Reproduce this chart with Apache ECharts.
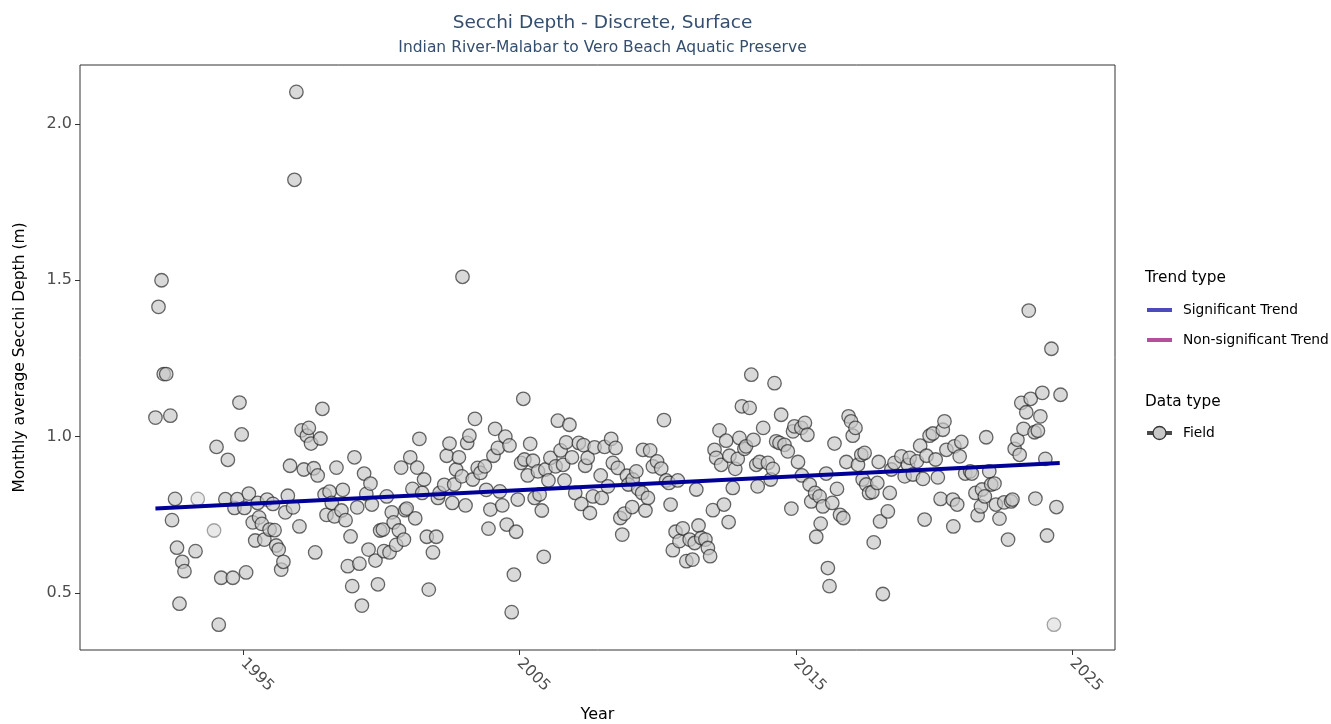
<!DOCTYPE html>
<html>
<head>
<meta charset="utf-8">
<script src="https://cdn.jsdelivr.net/npm/echarts@6/dist/echarts.min.js"></script>
<style>
html,body{margin:0;padding:0;background:#fff;}
#chart{width:1331px;height:724px;}
</style>
</head>
<body>
<div id="chart"></div>
<script>
// ---- data (decimal year, monthly average Secchi depth in m) ----
const fieldYears = [
1991.83,1991.94,1992.05,1992.13,1992.22,1992.37,1992.43,1992.54,1992.61,1992.70,1992.80,1992.88,1993.28,
1994.04,1994.12,1994.21,1994.36,1994.45,1994.63,1994.69,1994.79,1994.87,1994.95,1995.05,1995.11,1995.21,1995.35,1995.44,
1995.53,1995.58,1995.68,1995.77,1995.87,1995.96,1996.08,1996.14,1996.20,1996.29,1996.38,1996.46,1996.53,1996.62,1996.70,1996.81,1996.86,1996.93,
1997.04,1997.12,1997.20,1997.31,1997.38,1997.46,1997.56,1997.61,1997.70,1997.80,1997.87,1997.95,
1998.02,1998.13,1998.21,1998.31,1998.38,1998.56,1998.61,1998.71,1998.79,1998.89,1998.95,
1999.03,1999.13,1999.21,1999.30,1999.38,1999.46,1999.54,1999.61,1999.66,1999.79,1999.88,1999.96,
2000.06,2000.10,2000.20,2000.30,2000.38,2000.45,2000.54,2000.64,2000.72,2000.82,2000.87,2000.92,
2001.05,2001.13,2001.23,2001.30,2001.38,2001.48,2001.55,2001.65,2001.72,2001.87,2001.99,
2002.05,2002.11,2002.28,2002.37,2002.47,2002.57,2002.64,2002.71,2002.81,2002.92,2002.94,
2003.05,2003.11,2003.19,2003.31,2003.39,2003.49,2003.59,2003.75,2003.80,2003.88,2003.95,
2004.06,2004.12,2004.22,2004.29,2004.38,2004.49,2004.54,2004.64,2004.72,2004.80,2004.88,2004.94,
2005.06,2005.14,2005.18,2005.30,2005.39,2005.49,2005.55,2005.67,2005.73,2005.81,2005.88,2005.94,
2006.05,2006.12,2006.31,2006.39,2006.49,2006.58,2006.63,2006.69,2006.81,2006.90,
2007.02,2007.15,2007.24,2007.32,2007.38,2007.47,2007.55,2007.66,2007.72,2007.94,2007.98,
2008.08,2008.20,2008.32,2008.38,2008.48,2008.56,2008.65,2008.72,2008.80,2008.89,2008.94,
2009.08,2009.10,2009.23,2009.30,2009.44,2009.47,2009.56,2009.65,2009.73,2009.83,2009.98,
2010.13,2010.23,2010.31,2010.41,2010.47,2010.55,2010.65,2010.73,2010.79,2010.91,
2011.04,2011.16,2011.26,2011.34,2011.40,2011.48,2011.58,2011.73,2011.82,2011.90,
2012.00,2012.06,2012.12,2012.24,2012.30,2012.40,2012.48,2012.57,2012.60,2012.72,2012.81,2012.90,2012.96,
2013.05,2013.14,2013.20,2013.33,2013.39,2013.47,2013.57,2013.62,2013.69,2013.82,2013.99,
2014.09,2014.17,2014.23,2014.29,2014.41,2014.47,2014.59,2014.71,2014.84,2014.90,2014.95,
2015.08,2015.20,2015.22,2015.33,2015.42,2015.50,2015.56,2015.70,2015.74,2015.86,2015.90,2015.98,
2016.10,2016.16,2016.22,2016.32,2016.40,2016.49,2016.60,2016.72,2016.83,2016.91,
2017.00,2017.06,2017.16,2017.25,2017.37,2017.42,2017.49,2017.55,2017.65,2017.77,2017.82,2017.95,
2018.00,2018.05,2018.15,2018.33,2018.40,2018.46,2018.57,2018.82,2018.94,
2019.06,2019.12,2019.24,2019.38,2019.50,2019.60,2019.66,2019.73,2019.84,2019.96,
2020.06,2020.14,2020.24,2020.32,2020.38,2020.45,2020.68,2020.70,2020.74,2020.84,2020.93,2020.99,
2021.13,2021.31,2021.37,2021.50,2021.58,2021.70,2021.74,2021.84,2021.89,
2022.00,2022.07,2022.19,2022.24,2022.37,2022.54,2022.68,2022.79,2022.84,2022.92,
2023.02,2023.10,2023.16,2023.24,2023.34,2023.43,2023.50,2023.64,2023.67,2023.76,2023.85,2023.92,
2024.03,2024.09,2024.25,2024.43,2024.58
];
const fieldDepth = [
1.061,1.415,1.500,1.200,1.200,1.067,0.733,0.801,0.645,0.466,0.600,0.570,0.634,
0.967,0.399,0.549,0.800,0.926,0.549,0.772,0.800,1.109,1.007,0.772,0.566,0.818,0.726,0.668,
0.788,0.742,0.721,0.671,0.799,0.703,0.785,0.701,0.652,0.639,0.575,0.600,0.758,0.811,0.907,0.774,1.821,2.102,
0.713,1.020,0.895,1.003,1.028,0.978,0.899,0.630,0.876,0.994,1.089,0.815,
0.750,0.824,0.788,0.745,0.901,0.764,0.830,0.733,0.586,0.681,0.522,
0.934,0.774,0.594,0.460,0.882,0.817,0.639,0.850,0.783,0.604,0.528,0.700,
0.703,0.634,0.809,0.630,0.758,0.726,0.654,0.700,0.901,0.671,0.765,0.770,
0.934,0.833,0.739,0.901,0.993,0.820,0.863,0.680,0.511,0.630,0.680,
0.804,0.820,0.846,0.939,0.978,0.788,0.847,0.895,0.934,0.873,1.511,
0.780,0.980,1.003,0.863,1.057,0.900,0.884,0.905,0.830,0.706,0.767,
0.939,1.025,0.964,0.825,0.780,1.000,0.719,0.972,0.439,0.559,0.696,0.799,
0.916,1.121,0.927,0.876,0.977,0.923,0.804,0.889,0.815,0.764,0.616,0.895,
0.860,0.932,0.905,1.051,0.956,0.910,0.860,0.982,1.038,0.934,
0.820,0.980,0.785,0.973,0.907,0.932,0.756,0.809,0.966,0.876,0.804,
0.967,0.841,0.993,0.916,0.964,0.900,0.740,0.687,0.754,0.875,0.847,
0.775,0.863,0.889,0.833,0.820,0.958,0.764,0.804,0.956,0.905,0.921,
0.898,1.053,0.860,0.852,0.783,0.637,0.696,0.860,0.666,0.707,
0.602,0.671,0.607,0.660,0.831,0.716,0.676,0.671,0.644,0.618,
0.765,0.958,0.932,1.020,0.910,0.783,0.987,0.727,0.939,0.836,0.897,0.929,0.996,
1.097,0.961,0.969,1.092,1.198,0.990,0.910,0.841,0.919,1.028,0.916,
0.863,0.897,1.171,0.985,0.980,1.070,0.974,0.953,0.770,1.017,1.033,
0.919,1.028,0.876,1.044,1.006,0.847,0.793,0.820,0.680,0.809,0.722,0.777,
0.882,0.580,0.522,0.788,0.978,0.833,0.750,0.740,0.919,1.065,
1.049,1.003,1.028,0.910,0.942,0.863,0.948,0.847,0.820,0.823,0.662,0.852,
0.919,0.729,0.497,0.761,0.820,0.895,0.916,0.937,0.873,
0.910,0.932,0.879,0.921,0.971,0.865,0.735,0.939,1.003,1.010,
0.927,0.870,0.801,1.022,1.049,0.958,0.799,0.713,0.969,0.783,0.937,0.983,
0.882,0.889,0.882,0.820,0.749,0.777,0.831,0.809,0.998,
0.889,0.847,0.850,0.783,0.738,0.790,0.671,0.793,0.799,0.961,
0.990,0.942,1.108,1.025,1.078,1.403,1.121,1.014,0.802,1.019,1.065,1.140,
0.929,0.684,1.281,0.775,1.134
];
// months drawn fainter in the reference
const faintYears = [1993.36, 1993.95, 2024.34];
const faintDepth = [0.801, 0.700, 0.399];
// significant trend line end points
const trendYears = [1991.83, 2024.55];
const trendDepth = [0.770, 0.916];
// axis ticks
const xTicks = [1995, 2005, 2015, 2025];
const yTicks = [0.5, 1.0, 1.5, 2.0];

const pair = (xs, ys) => xs.map((x, i) => [x, ys[i]]);

const chart = echarts.init(document.getElementById('chart'));
const font = '"DejaVu Sans", "Liberation Sans", sans-serif';
const L = 80, R = 1115, T = 65, B = 650;

function legendText(x, y, text, size) {
  return { type: 'text', x: x, y: y,
    style: { text: text, fontFamily: font, fontSize: size, fill: '#000', align: 'left', verticalAlign: 'middle' } };
}

chart.setOption({
  animation: false,
  backgroundColor: '#ffffff',
  textStyle: { fontFamily: font },
  title: {
    text: 'Secchi Depth - Discrete, Surface',
    subtext: 'Indian River-Malabar to Vero Beach Aquatic Preserve',
    left: (L + R) / 2,
    textAlign: 'center',
    top: 9,
    itemGap: 7,
    textStyle: { fontFamily: font, fontSize: 18.5, fontWeight: 'normal', color: '#344e6e' },
    subtextStyle: { fontFamily: font, fontSize: 15.5, color: '#344e6e' }
  },
  grid: {
    left: L, top: T, width: R - L, height: B - T,
    containLabel: false, outerBoundsMode: 'none',
    show: true, borderColor: '#333333', borderWidth: 1, backgroundColor: '#ffffff'
  },
  xAxis: {
    type: 'value',
    min: 1989.1, max: 2026.55,
    name: 'Year', nameLocation: 'middle', nameGap: 57,
    nameTextStyle: { fontFamily: font, fontSize: 16, color: '#000' },
    axisLine: { show: false },
    splitLine: { show: false },
    axisTick: { show: true, length: 5, customValues: xTicks, lineStyle: { color: '#333', width: 1 } },
    axisLabel: {
      customValues: xTicks, rotate: -45, margin: 11,
      fontFamily: font, fontSize: 15.5, color: '#4d4d4d',
      formatter: v => String(Math.round(v))
    }
  },
  yAxis: {
    type: 'value',
    min: 0.318, max: 2.188,
    name: 'Monthly average Secchi Depth (m)', nameLocation: 'middle', nameGap: 52,
    nameTextStyle: { fontFamily: font, fontSize: 15.5, color: '#000' },
    axisLine: { show: false },
    splitLine: { show: false },
    axisTick: { show: true, length: 5, customValues: yTicks, lineStyle: { color: '#333', width: 1 } },
    axisLabel: {
      customValues: yTicks, margin: 8,
      fontFamily: font, fontSize: 16, color: '#4d4d4d',
      formatter: v => v.toFixed(1)
    }
  },
  series: [
    {
      name: 'Field', type: 'scatter', symbol: 'circle', symbolSize: 13.5,
      data: pair(faintYears, faintDepth),
      itemStyle: { color: 'rgba(205,205,205,0.55)', borderColor: 'rgba(40,40,40,0.5)', borderWidth: 1.3 },
      z: 2
    },
    {
      name: 'Field', type: 'scatter', symbol: 'circle', symbolSize: 13.5,
      data: pair(fieldYears, fieldDepth),
      itemStyle: { color: 'rgba(200,200,200,0.85)', borderColor: 'rgba(35,35,35,0.85)', borderWidth: 1.3 },
      z: 3
    },
    {
      name: 'Significant Trend', type: 'line', showSymbol: false,
      data: pair(trendYears, trendDepth),
      lineStyle: { color: '#000099', width: 4 },
      z: 4
    }
  ],
  graphic: [
    legendText(1145, 278, 'Trend type', 15.3),
    { type: 'rect', shape: { x: 1147, y: 308, width: 25, height: 4 }, style: { fill: '#4b4bbf' } },
    legendText(1183, 310, 'Significant Trend', 13.8),
    { type: 'rect', shape: { x: 1147, y: 338, width: 25, height: 4 }, style: { fill: '#b54f9c' } },
    legendText(1183, 340, 'Non-significant Trend', 13.8),
    legendText(1145, 402, 'Data type', 15.3),
    { type: 'rect', shape: { x: 1147, y: 431, width: 25, height: 4 }, style: { fill: '#4a4a4a' } },
    { type: 'circle', shape: { cx: 1159.5, cy: 433, r: 6.5 }, style: { fill: '#c8c8c8', stroke: '#333', lineWidth: 1.3 } },
    legendText(1183, 433, 'Field', 13.8)
  ]
});
</script>
</body>
</html>
